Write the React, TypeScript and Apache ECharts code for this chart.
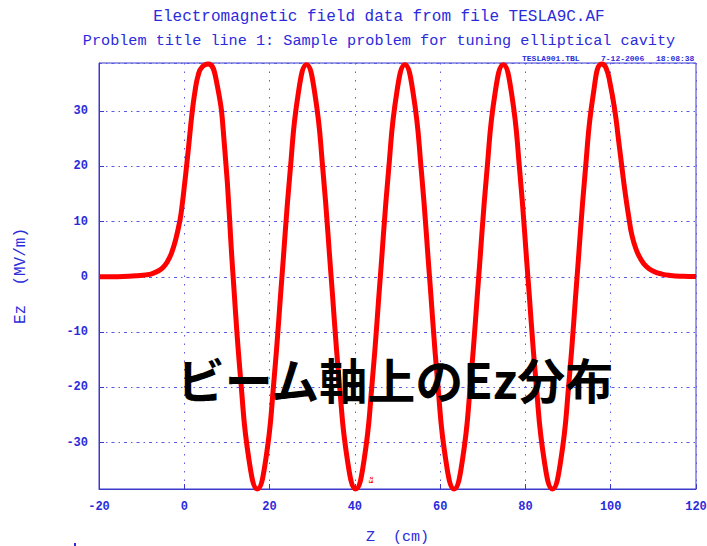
import React, { useEffect, useRef } from "react";
import * as echarts from "echarts";

const zPositions = [
  -20, -16, -13, -11, -9, -7.5, -6, -5, -4, -3, -2, -1, -0.5, 0, 0.6, 1.2, 1.7, 2.5, 3.3, 4.2, 5.6,
  7.52, 9.45, 11.37, 13.29, 15.21, 17.14, 19.06, 20.98, 22.9, 24.83, 26.75, 28.67, 30.59, 32.52,
  34.44, 36.36, 38.28, 40.21, 42.13, 44.05, 45.97, 47.9, 49.82, 51.74, 53.66, 55.59, 57.51, 59.43,
  61.35, 63.28, 65.2, 67.12, 69.04, 70.97, 72.89, 74.81, 76.73, 78.66, 80.58, 82.5, 84.42, 86.35,
  88.27, 90.19, 92.11, 94.04, 95.96, 97.88,
  98.9, 99.9, 101.0, 101.8, 102.6, 103.2, 103.8, 104.4, 104.9, 105.8, 106.9, 108.3, 110, 112, 114, 117, 120,
];

const ezValues = [
  0, 0.03, 0.1, 0.2, 0.35, 0.6, 1.1, 1.7, 2.7, 4.3, 6.8, 10.3, 13.0, 16.3, 20.5, 25.0, 28.8, 33.5, 36.6, 38.0, 38.5,
  35.5, 23.5, 1.0, -19.2, -33.3, -38.4,
  -33.3, -19.2, 0, 19.2, 33.3, 38.4,
  33.3, 19.2, 0, -19.2, -33.3, -38.4,
  -33.3, -19.2, 0, 19.2, 33.3, 38.4,
  33.3, 19.2, 0, -19.2, -33.3, -38.4,
  -33.3, -19.2, 0, 19.2, 33.3, 38.4,
  33.3, 19.2, 0, -19.2, -33.3, -38.4,
  -33.3, -19.2, 0, 19.2, 33.3, 38.5,
  37.8, 34.8, 29.9, 25.0, 20.0, 16.3, 13.0, 10.0, 7.8, 5.3, 3.4, 1.9, 1.0, 0.5, 0.25, 0.1, 0.05,
];

const xTicks = { min: -20, max: 120, interval: 20 };
const yRange = { min: -38.4, max: 38.7 };

const titleLines = [
  "Electromagnetic field data from file TESLA9C.AF",
  "Problem title line 1: Sample problem for tuning elliptical cavity",
];
const stampTexts = ["TESLA901.TBL", "7-12-2006", "18:08:38"];
const overlayText = "ビーム軸上のEz分布";

const BLUE = "#2b2bdb";
const FRAME = "#3a3acc";
const GRIDC = "#5a5ae6";
const MONO = "'Liberation Mono', 'DejaVu Sans Mono', monospace";

export default function App() {
  const ref = useRef<HTMLDivElement>(null);
  useEffect(() => {
    if (!ref.current) return;
    const chart = echarts.init(ref.current, null, { renderer: "svg" });
    const data = zPositions.map((z, i) => [z, ezValues[i]]);
    chart.setOption({
      animation: false,
      backgroundColor: "#ffffff",
      grid: {
        left: 99,
        top: 63,
        width: 597,
        height: 426,
        containLabel: false,
        outerBoundsMode: "none",
        show: true,
        borderColor: FRAME,
        borderWidth: 1,
        backgroundColor: "transparent",
      },
      xAxis: {
        type: "value",
        min: xTicks.min,
        max: xTicks.max,
        interval: xTicks.interval,
        name: "Z  (cm)",
        nameLocation: "middle",
        nameGap: 41,
        nameTextStyle: { color: BLUE, fontFamily: MONO, fontSize: 15 },
        axisLine: { show: true, onZero: false, lineStyle: { color: FRAME, width: 1 } },
        axisTick: { show: true, inside: true, length: 5, lineStyle: { color: FRAME } },
        axisLabel: {
          color: BLUE,
          fontFamily: MONO,
          fontSize: 12,
          fontWeight: "bold",
          margin: 12,
        },
        splitLine: { show: true, lineStyle: { color: GRIDC, type: [1.5, 7], width: 1 } },
      },
      yAxis: {
        type: "value",
        min: yRange.min,
        max: yRange.max,
        splitNumber: 8,
        name: "Ez  (MV/m)",
        nameLocation: "middle",
        nameGap: 70,
        nameRotate: 90,
        nameTextStyle: { color: BLUE, fontFamily: MONO, fontSize: 16 },
        axisLine: { show: true, onZero: false, lineStyle: { color: FRAME, width: 1 } },
        axisTick: { show: true, inside: true, length: 5, lineStyle: { color: FRAME } },
        axisLabel: {
          color: BLUE,
          fontFamily: MONO,
          fontSize: 12,
          fontWeight: "bold",
          margin: 11,
          showMinLabel: false,
          showMaxLabel: false,
          formatter: (v: number) => (Math.abs(v % 10) < 1e-6 ? String(v) : ""),
        },
        splitLine: { show: true, lineStyle: { color: GRIDC, type: [3, 4, 1.5, 4], width: 1 } },
      },
      series: [
        {
          type: "line",
          data,
          showSymbol: false,
          smooth: 0.5,
          clip: false,
          lineStyle: { color: "#ff0000", width: 5 },
          z: 5,
        },
      ],
      graphic: [
        {
          type: "text",
          x: 379,
          y: 17,
          style: {
            text: titleLines[0],
            fill: BLUE,
            font: `16px ${MONO}`,
            textAlign: "center",
            textVerticalAlign: "middle",
          },
        },
        {
          type: "text",
          x: 379,
          y: 41,
          style: {
            text: titleLines[1],
            fill: BLUE,
            font: `15.2px ${MONO}`,
            textAlign: "center",
            textVerticalAlign: "middle",
          },
        },
        {
          type: "text",
          x: 522,
          y: 58,
          style: { text: stampTexts[0], fill: BLUE, font: `bold 8px ${MONO}`, textVerticalAlign: "middle" },
        },
        {
          type: "text",
          x: 601,
          y: 58,
          style: { text: stampTexts[1], fill: BLUE, font: `bold 8px ${MONO}`, textVerticalAlign: "middle" },
        },
        {
          type: "text",
          x: 656,
          y: 58,
          style: { text: stampTexts[2], fill: BLUE, font: `bold 8px ${MONO}`, textVerticalAlign: "middle" },
        },
        {
          type: "text",
          x: 371,
          y: 480,
          rotation: Math.PI / 2,
          style: {
            text: "Ez",
            fill: "#ff0000",
            font: `bold 6px ${MONO}`,
            textAlign: "center",
            textVerticalAlign: "middle",
          },
        },
        {
          type: "rect",
          shape: { x: 74, y: 543, width: 2, height: 3 },
          style: { fill: BLUE },
        },
        {
          type: "text",
          x: 395,
          y: 378,
          z: 100,
          style: {
            text: overlayText,
            fill: "#000000",
            font: `bold 48px 'Noto Sans CJK JP', sans-serif`,
            textAlign: "center",
            textVerticalAlign: "middle",
          },
        },
      ],
    });
    return () => chart.dispose();
  }, []);
  return (
    <div
      ref={ref}
      style={{ position: "absolute", left: 0, top: 0, width: 707, height: 546 }}
    />
  );
}
